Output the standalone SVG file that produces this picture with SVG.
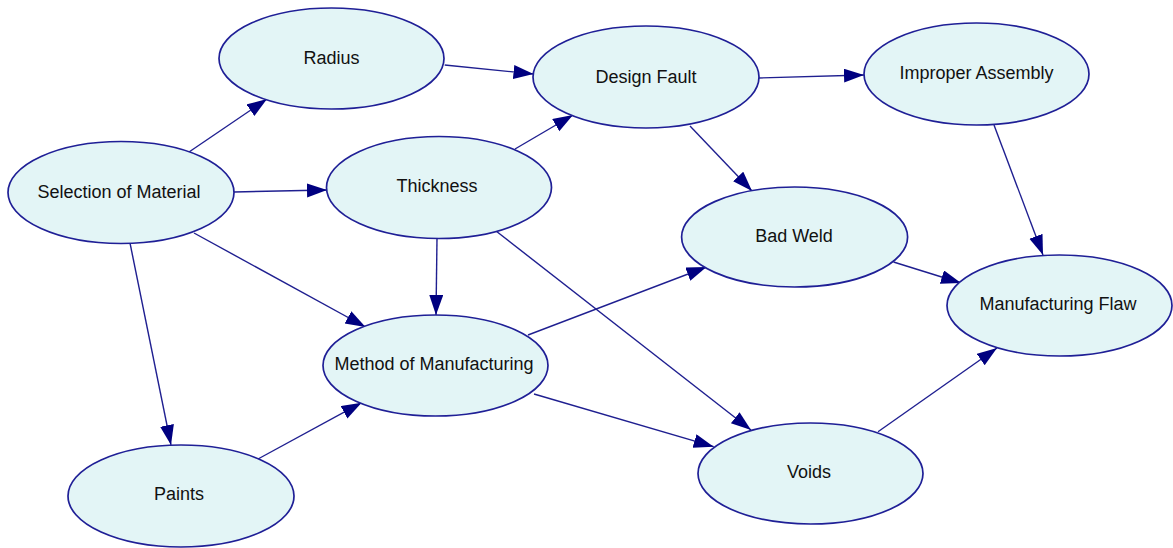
<svg xmlns="http://www.w3.org/2000/svg" width="1173" height="548" viewBox="0 0 1173 548">
  <style>
    .node ellipse { fill: #e3f5f6; stroke: #1f1f96; stroke-width: 1.7; }
    .node text { font-family: "Liberation Sans", Arial, sans-serif; font-size: 18px; fill: #111; text-anchor: middle; dominant-baseline: central; }
    .edges line { stroke: #1f1f90; stroke-width: 1.4; marker-end: url(#arrow); }
  </style>
  <defs>
    <marker id="arrow" markerUnits="userSpaceOnUse" markerWidth="22" markerHeight="16" refX="20" refY="7" orient="auto">
      <path d="M0,0 L20,7 L0,14 z" fill="#000080"/>
    </marker>
  </defs>
  <rect width="1173" height="548" fill="#ffffff"/>

  <g class="edges">
    <line x1="189" y1="152" x2="267" y2="99"/>
    <line x1="234" y1="192" x2="327" y2="190"/>
    <line x1="194" y1="233" x2="365.5" y2="327"/>
    <line x1="130" y1="243" x2="171" y2="445"/>
    <line x1="444.7" y1="65" x2="533.5" y2="74"/>
    <line x1="515" y1="149" x2="573" y2="115"/>
    <line x1="437" y1="238" x2="436" y2="315"/>
    <line x1="496" y1="231" x2="751" y2="430"/>
    <line x1="759" y1="78" x2="864" y2="75"/>
    <line x1="690" y1="126" x2="752" y2="191"/>
    <line x1="994" y1="125" x2="1043" y2="255"/>
    <line x1="893.5" y1="262" x2="961" y2="283"/>
    <line x1="528" y1="335" x2="706.5" y2="267"/>
    <line x1="534" y1="394" x2="713.7" y2="446.7"/>
    <line x1="258" y1="459" x2="361.6" y2="402.7"/>
    <line x1="878" y1="431.7" x2="997" y2="348"/>
  </g>

  <g id="radius" class="node">
    <ellipse cx="331.5" cy="58.5" rx="112.5" ry="50.5"/>
    <text x="331.5" y="58">Radius</text>
  </g>
  <g id="design-fault" class="node">
    <ellipse cx="646" cy="77" rx="113" ry="51"/>
    <text x="646" y="77">Design Fault</text>
  </g>
  <g id="improper-assembly" class="node">
    <ellipse cx="976.5" cy="74" rx="112.5" ry="51"/>
    <text x="976.5" y="73">Improper Assembly</text>
  </g>
  <g id="selection-of-material" class="node">
    <ellipse cx="121" cy="192.5" rx="113" ry="51"/>
    <text x="119" y="191.5">Selection of Material</text>
  </g>
  <g id="thickness" class="node">
    <ellipse cx="439" cy="187.5" rx="112.5" ry="51"/>
    <text x="437" y="186">Thickness</text>
  </g>
  <g id="bad-weld" class="node">
    <ellipse cx="794.6" cy="237" rx="113" ry="50"/>
    <text x="794" y="236">Bad Weld</text>
  </g>
  <g id="manufacturing-flaw" class="node">
    <ellipse cx="1059.5" cy="305.5" rx="112.5" ry="50.5"/>
    <text x="1058" y="304">Manufacturing Flaw</text>
  </g>
  <g id="method-of-manufacturing" class="node">
    <ellipse cx="435.5" cy="365.5" rx="112.5" ry="50.5"/>
    <text x="434" y="364">Method of Manufacturing</text>
  </g>
  <g id="voids" class="node">
    <ellipse cx="810.5" cy="473.5" rx="112.5" ry="50.5"/>
    <text x="809" y="472">Voids</text>
  </g>
  <g id="paints" class="node">
    <ellipse cx="181" cy="496" rx="113" ry="51"/>
    <text x="179" y="494">Paints</text>
  </g>
</svg>
